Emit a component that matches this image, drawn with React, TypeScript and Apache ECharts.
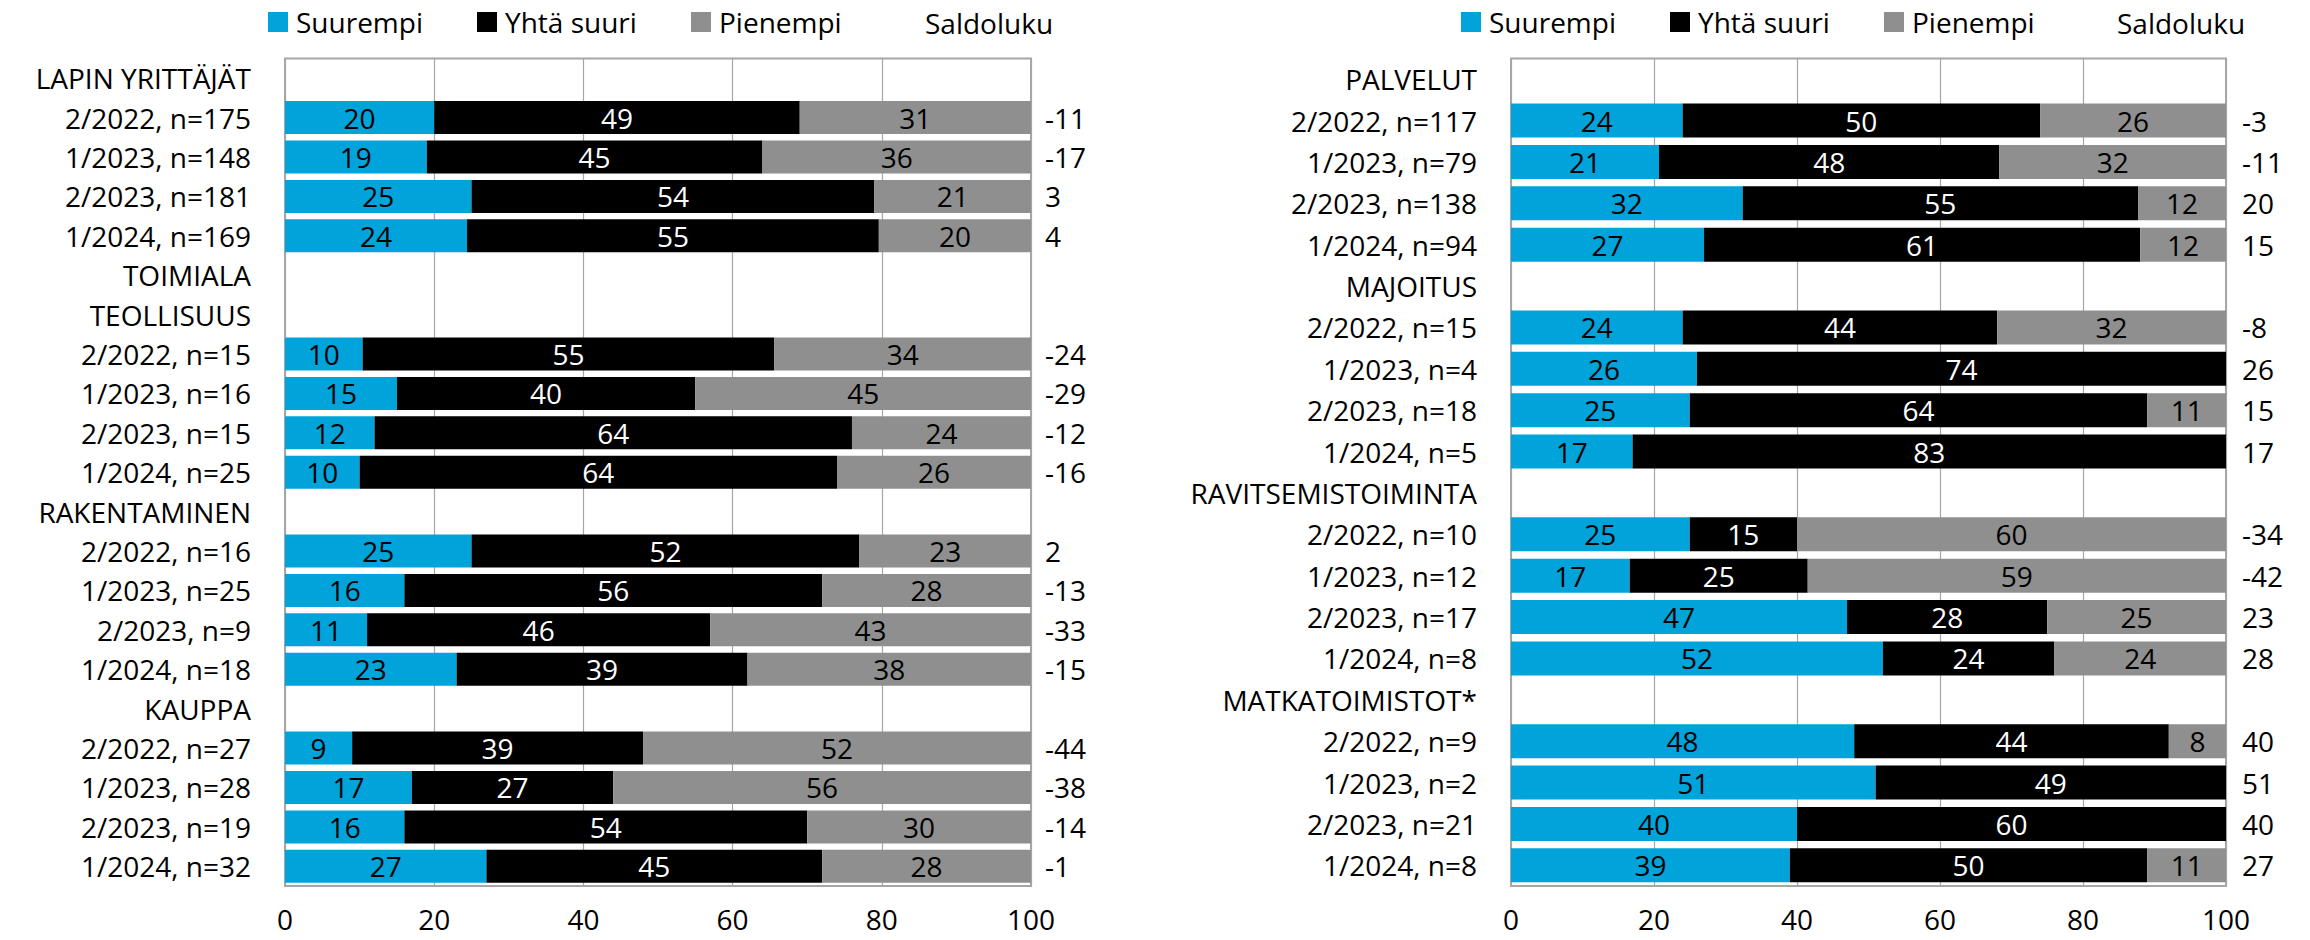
import React, { useEffect, useRef } from 'react';
import * as echarts from 'echarts';

const FONT = "'Open Sans', 'Liberation Sans', sans-serif";

const seriesNames = ['Suurempi', 'Yhtä suuri', 'Pienempi'];
const saldoTitle = 'Saldoluku';
const xTicks = [0, 20, 40, 60, 80, 100];

const leftCategories = [
  'LAPIN YRITTÄJÄT',
  '2/2022, n=175', '1/2023, n=148', '2/2023, n=181', '1/2024, n=169',
  'TOIMIALA',
  'TEOLLISUUS',
  '2/2022, n=15', '1/2023, n=16', '2/2023, n=15', '1/2024, n=25',
  'RAKENTAMINEN',
  '2/2022, n=16', '1/2023, n=25', '2/2023, n=9', '1/2024, n=18',
  'KAUPPA',
  '2/2022, n=27', '1/2023, n=28', '2/2023, n=19', '1/2024, n=32',
];
const leftSuurempi = [null, 20, 19, 25, 24.4, null, null, 10.4, 15, 12, 10, null, 25, 16, 11, 23, null, 9, 17, 16, 27];
const leftYhta = [null, 49, 45, 54, 55.2, null, null, 55.2, 40, 64, 64, null, 52, 56, 46, 39, null, 39, 27, 54, 45];
const leftPienempi = [null, 31, 36, 21, 20.4, null, null, 34.4, 45, 24, 26, null, 23, 28, 43, 38, null, 52, 56, 30, 28];
const leftSaldo = ['', '-11', '-17', '3', '4', '', '', '-24', '-29', '-12', '-16', '', '2', '-13', '-33', '-15', '', '-44', '-38', '-14', '-1'];

const rightCategories = [
  'PALVELUT',
  '2/2022, n=117', '1/2023, n=79', '2/2023, n=138', '1/2024, n=94',
  'MAJOITUS',
  '2/2022, n=15', '1/2023, n=4', '2/2023, n=18', '1/2024, n=5',
  'RAVITSEMISTOIMINTA',
  '2/2022, n=10', '1/2023, n=12', '2/2023, n=17', '1/2024, n=8',
  'MATKATOIMISTOT*',
  '2/2022, n=9', '1/2023, n=2', '2/2023, n=21', '1/2024, n=8',
];
const rightSuurempi = [null, 24, 20.7, 32.4, 27, null, 24, 26, 25, 17, null, 25, 16.6, 47, 52, null, 48, 51, 40, 39];
const rightYhta = [null, 50, 47.6, 55.3, 61, null, 44, 74, 64, 83, null, 15, 24.9, 28, 24, null, 44, 49, 60, 50];
const rightPienempi = [null, 26, 31.7, 12.3, 12, null, 32, null, 11, null, null, 60, 58.5, 25, 24, null, 8, null, null, 11];
const rightSaldo = ['', '-3', '-11', '20', '15', '', '-8', '26', '15', '17', '', '-34', '-42', '23', '28', '', '40', '51', '40', '27'];

const COLORS = ['#00A3DA', '#000000', '#8F8F8F'];
const LABEL_COLORS = ['#000000', '#ffffff', '#000000'];

export default function App() {
  const ref = useRef<HTMLDivElement>(null);

  useEffect(() => {
    if (!ref.current) return;
    const chart = echarts.init(ref.current, undefined, { renderer: 'svg' });

    const grids = [
      { left: 285, top: 58.5, width: 746, height: 827.5 },
      { left: 1511, top: 58.5, width: 715, height: 827.5 },
    ];
    const cats = [leftCategories, rightCategories];
    const saldos = [leftSaldo, rightSaldo];
    const values = [
      [leftSuurempi, leftYhta, leftPienempi],
      [rightSuurempi, rightYhta, rightPienempi],
    ];
    const barWidths = [33, 34];

    const textStyle = { fontFamily: FONT, fontSize: 28, color: '#000' };

    const legendLefts = [
      [268, 477, 691],
      [1461, 1670, 1884],
    ];
    const saldoLefts = [925, 2117];

    const legend: any[] = [];
    legendLefts.forEach((arr) => {
      arr.forEach((l, i) => {
        legend.push({
          left: l,
          top: 8,
          padding: 0,
          itemWidth: 20,
          itemHeight: 20,
          itemGap: 0,
          icon: 'rect',
          selectedMode: false,
          data: [seriesNames[i]],
          textStyle: { ...textStyle, padding: [0, 0, 0, 3] },
        });
      });
    });

    const xAxis = grids.map((_, gi) => ({
      type: 'value',
      gridIndex: gi,
      min: 0,
      max: 100,
      interval: 20,
      axisLine: { show: false },
      axisTick: { show: false },
      splitLine: { show: true, lineStyle: { color: '#A6A6A6', width: 1.2 } },
      axisLabel: {
        ...textStyle,
        lineHeight: 28,
        margin: 19,
        formatter: (v: number) => (xTicks.includes(v) ? String(v) : ''),
      },
    }));

    const yAxis: any[] = [];
    grids.forEach((_, gi) => {
      yAxis.push({
        type: 'category',
        gridIndex: gi,
        inverse: true,
        data: cats[gi],
        axisLine: { show: false },
        axisTick: { show: false },
        splitLine: { show: false },
        axisLabel: { ...textStyle, margin: 34, interval: 0 },
      });
      yAxis.push({
        type: 'category',
        gridIndex: gi,
        inverse: true,
        position: 'right',
        data: saldos[gi],
        axisLine: { show: false },
        axisTick: { show: false },
        splitLine: { show: false },
        axisLabel: { ...textStyle, margin: gi === 0 ? 14 : 16, interval: 0, align: 'left' },
      });
    });

    const series: any[] = [];
    grids.forEach((_, gi) => {
      seriesNames.forEach((name, si) => {
        series.push({
          type: 'bar',
          name,
          xAxisIndex: gi,
          yAxisIndex: gi * 2,
          stack: 'g' + gi,
          barWidth: barWidths[gi],
          data: values[gi][si],
          itemStyle: { color: COLORS[si] },
          label: {
            show: true,
            position: 'inside',
            ...textStyle,
            color: LABEL_COLORS[si],
            formatter: (p: any) => (p.value == null || p.value === 0 ? '' : String(Math.round(p.value))),
          },
        });
      });
    });

    const graphic = saldoLefts.map((l) => ({
      type: 'text',
      left: l,
      top: 9,
      style: { text: saldoTitle, font: `28px ${FONT}`, fill: '#000' },
    }));

    chart.setOption({
      animation: false,
      backgroundColor: '#ffffff',
      textStyle: { fontFamily: FONT },
      grid: grids.map((g) => ({ ...g, show: true, borderColor: '#A6A6A6', borderWidth: 2, backgroundColor: 'transparent' })),
      legend,
      xAxis,
      yAxis,
      series,
      graphic,
    });

    return () => chart.dispose();
  }, []);

  return (
    <div
      ref={ref}
      style={{ position: 'fixed', left: 0, top: 0, width: 2310, height: 940, background: '#fff' }}
    />
  );
}
